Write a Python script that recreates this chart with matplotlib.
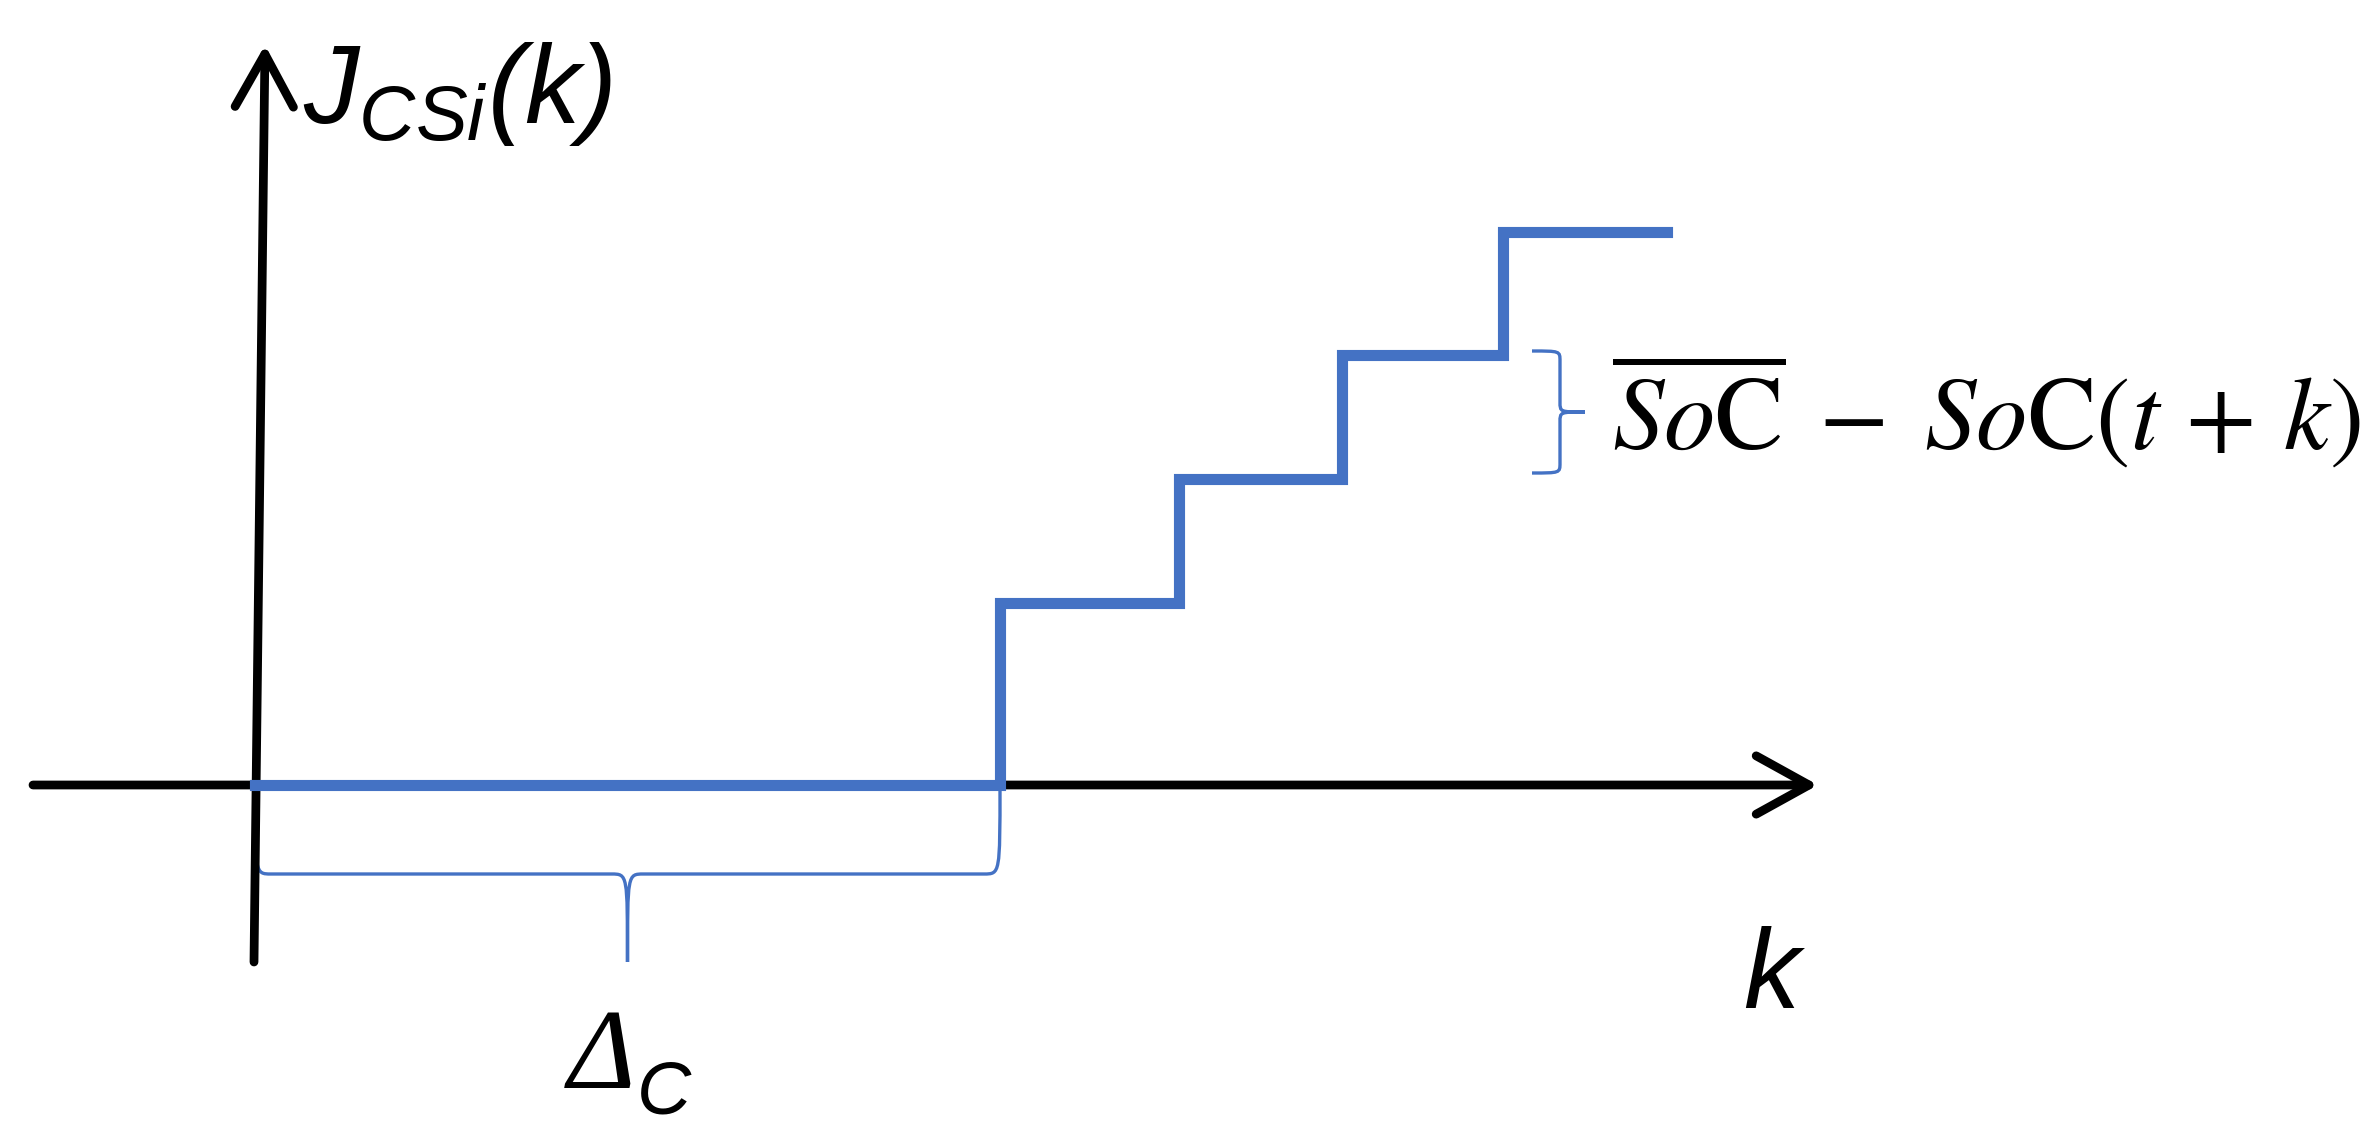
import matplotlib
matplotlib.use('Agg')
import matplotlib.pyplot as plt
from matplotlib.path import Path
import matplotlib.patches as mpatches

plt.rcParams['mathtext.fontset'] = 'custom'
plt.rcParams['mathtext.rm'] = 'Liberation Sans:italic'
plt.rcParams['mathtext.it'] = 'Liberation Sans:italic'

# step profile of the cost J_CSi(k) (k in arbitrary units, J in arbitrary units)
step_k = [0.0, 7.45, 9.24, 10.87, 12.48, 14.12]
step_J = [0.0, 1.82, 3.06, 4.30, 5.53, 5.53]
delay_span = [0.0, 7.45]          # Delta_C
increment_span = [3.06, 4.30]     # one step of SoC_bar - SoC(t+k)

BLUE = '#4472C4'


def brace(ax, u0, u1, v0, v1, v2, r, vertical=False, **kw):
    um = (u0 + u1) / 2
    pts = [(u0, v0), (u0, v1), (u0, v1), (u0 + r, v1),
           (um - r, v1),
           (um, v1), (um, v1), (um, v2),
           (um, v1), (um, v1), (um + r, v1),
           (u1 - r, v1),
           (u1, v1), (u1, v1), (u1, v0)]
    codes = [Path.MOVETO, Path.CURVE4, Path.CURVE4, Path.CURVE4,
             Path.LINETO,
             Path.CURVE4, Path.CURVE4, Path.CURVE4,
             Path.CURVE4, Path.CURVE4, Path.CURVE4,
             Path.LINETO,
             Path.CURVE4, Path.CURVE4, Path.CURVE4]
    if vertical:
        pts = [(v, u) for u, v in pts]
    ax.add_patch(mpatches.PathPatch(Path(pts, codes), fill=False, **kw))


def arrow(ax, tail, tip):
    ax.annotate('', xy=tip, xytext=tail,
                arrowprops=dict(arrowstyle='->,head_length=3.8,head_width=2.1',
                                mutation_scale=10, lw=6.3, color='black',
                                shrinkA=0, shrinkB=0, capstyle='round',
                                joinstyle='round'))


fig = plt.figure(figsize=(23.76, 11.36), dpi=100)
ax = fig.add_axes([0, 0, 1, 1])
ax.set_xlim(-2.55, 21.21)
ax.set_ylim(-3.51, 7.85)
ax.axis('off')

# axes
arrow(ax, (-2.22, 0), (15.63, 0))
arrow(ax, (-0.01, -1.77), (0.10, 7.40))

# cost profile
ax.step(step_k, step_J, where='post', color=BLUE, lw=8, zorder=3,
        solid_joinstyle='miter')

# braces
brace(ax, delay_span[0], delay_span[1], 0.0, -0.89, -1.77, 0.16,
      color=BLUE, lw=2.4, zorder=2)
brace(ax, increment_span[0] + 0.06, increment_span[1] + 0.04, 12.77, 13.05, 13.30,
      0.1, vertical=True, color=BLUE, lw=2.4, zorder=2)

# labels
ax.text(0.48, 6.62, r'$J_{CSi}(k)$', fontsize=80, ha='left', va='baseline')
ax.text(14.88, -2.23, 'k', fontsize=81, family='Liberation Sans', style='italic',
        ha='left', va='baseline')
mid = sum(delay_span) / 2
ax.text(mid - 0.6, -3.03, '\u0394', fontsize=83, family='Liberation Serif',
        style='italic', ha='left', va='baseline')
ax.text(mid + 0.09, -3.29, 'C', fontsize=54, family='Liberation Sans',
        style='italic', ha='left', va='baseline')
ax.text(13.57, 3.35, r'$\overline{So\mathrm{C}}\;-\;So\mathrm{C}(t\,+\,k)$', fontsize=74,
        math_fontfamily='stix', ha='left', va='baseline')

fig.savefig('out.png', dpi=100)
